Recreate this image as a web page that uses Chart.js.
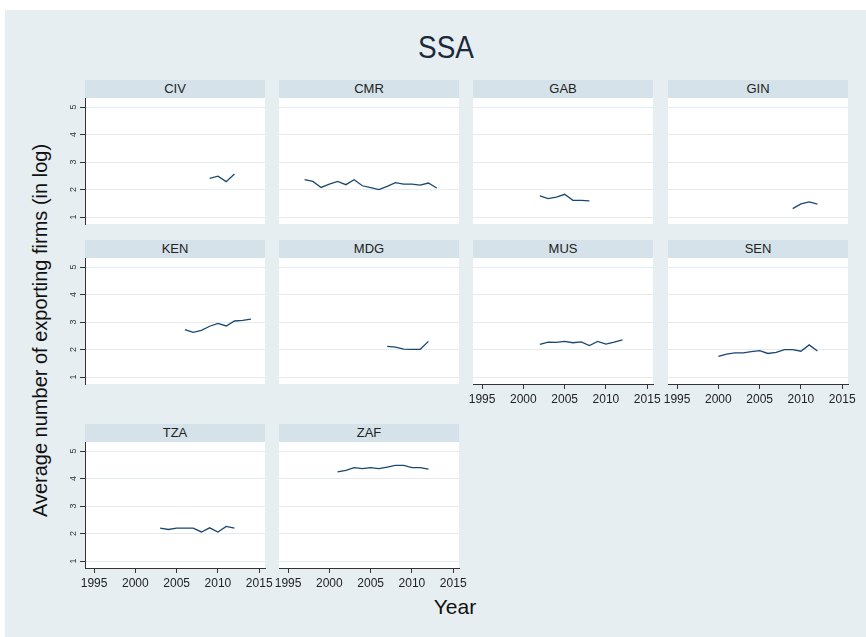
<!DOCTYPE html>
<html>
<head>
<meta charset="utf-8">
<script src="https://cdn.jsdelivr.net/npm/chart.js@4.4.1/dist/chart.umd.min.js"></script>
<style>
  body { margin: 0; width: 866px; height: 637px; background: #fff; position: relative; overflow: hidden;
         font-family: "Liberation Sans", Arial, sans-serif; }
  #bg { position: absolute; left: 5px; top: 10px; width: 861px; height: 627px; background: #e6eef1; }
  .strip { position: absolute; height: 18px; line-height: 18px; background: #d6e2e9; color: #222;
           font-size: 13px; text-align: center; }
  canvas { position: absolute; }
  #title { position: absolute; left: 346px; width: 200px; top: 30px; text-align: center; font-size: 31px;
           color: #1a2a3a; transform: scaleX(0.9); }
  #ytitle { position: absolute; left: -190px; top: 319px; width: 460px; text-align: center; font-size: 20px;
            color: #111; transform: rotate(-90deg); }
  #xtitle { position: absolute; left: 405px; width: 100px; top: 595px; text-align: center; font-size: 21px; color: #111; }
</style>
</head>
<body>
<div id="bg"></div>
<div id="title">SSA</div>
<div id="ytitle">Average number of exporting firms (in log)</div>
<div id="xtitle">Year</div>

<script>
// data
const civYears = [2009, 2010, 2011, 2012];
const civValues = [2.41, 2.49, 2.29, 2.57];

const cmrYears = [1997, 1998, 1999, 2000, 2001, 2002, 2003, 2004, 2005, 2006, 2007, 2008, 2009, 2010, 2011, 2012, 2013];
const cmrValues = [2.36, 2.3, 2.08, 2.2, 2.3, 2.18, 2.36, 2.14, 2.07, 2.0, 2.12, 2.25, 2.2, 2.2, 2.16, 2.24, 2.06];

const gabYears = [2002, 2003, 2004, 2005, 2006, 2007, 2008];
const gabValues = [1.77, 1.67, 1.73, 1.83, 1.61, 1.61, 1.59];

const ginYears = [2009, 2010, 2011, 2012];
const ginValues = [1.31, 1.48, 1.55, 1.47];

const kenYears = [2006, 2007, 2008, 2009, 2010, 2011, 2012, 2013, 2014];
const kenValues = [2.73, 2.63, 2.7, 2.85, 2.95, 2.86, 3.04, 3.06, 3.11];

const mdgYears = [2007, 2008, 2009, 2010, 2011, 2012];
const mdgValues = [2.12, 2.09, 2.02, 2.01, 2.01, 2.3];

const musYears = [2002, 2003, 2004, 2005, 2006, 2007, 2008, 2009, 2010, 2011, 2012];
const musValues = [2.19, 2.27, 2.26, 2.3, 2.25, 2.28, 2.15, 2.3, 2.2, 2.27, 2.35];

const senYears = [2000, 2001, 2002, 2003, 2004, 2005, 2006, 2007, 2008, 2009, 2010, 2011, 2012];
const senValues = [1.75, 1.84, 1.88, 1.88, 1.93, 1.96, 1.86, 1.9, 2.0, 2.0, 1.94, 2.17, 1.95];

const tzaYears = [2003, 2004, 2005, 2006, 2007, 2008, 2009, 2010, 2011, 2012];
const tzaValues = [2.2, 2.15, 2.2, 2.2, 2.2, 2.06, 2.21, 2.06, 2.26, 2.2];

const zafYears = [2001, 2002, 2003, 2004, 2005, 2006, 2007, 2008, 2009, 2010, 2011, 2012];
const zafValues = [4.24, 4.3, 4.4, 4.36, 4.4, 4.36, 4.42, 4.48, 4.48, 4.4, 4.4, 4.34];

const xTicks = [1995, 2000, 2005, 2010, 2015];
const yTicks = [1, 2, 3, 4, 5];

// panel layout
const panels = [
  { name: "CIV", years: civYears, values: civValues, col: 0, row: 0, xAxis: false },
  { name: "CMR", years: cmrYears, values: cmrValues, col: 1, row: 0, xAxis: false },
  { name: "GAB", years: gabYears, values: gabValues, col: 2, row: 0, xAxis: false },
  { name: "GIN", years: ginYears, values: ginValues, col: 3, row: 0, xAxis: false },
  { name: "KEN", years: kenYears, values: kenValues, col: 0, row: 1, xAxis: false },
  { name: "MDG", years: mdgYears, values: mdgValues, col: 1, row: 1, xAxis: false },
  { name: "MUS", years: musYears, values: musValues, col: 2, row: 1, xAxis: true },
  { name: "SEN", years: senYears, values: senValues, col: 3, row: 1, xAxis: true },
  { name: "TZA", years: tzaYears, values: tzaValues, col: 0, row: 2, xAxis: true },
  { name: "ZAF", years: zafYears, values: zafValues, col: 1, row: 2, xAxis: true },
];

const colLeft = [85, 279, 473, 668];
const rowTop = [98, 258, 442];
const plotW = 180;
const plotH = 126;
const PAD = 20;
const X_AXIS_H = 26;
const lineColor = "#1a476f";

// white plot region behind the lines
const plotBg = {
  id: "plotBg",
  beforeDraw(chart) {
    const { ctx, chartArea: a } = chart;
    ctx.save();
    ctx.fillStyle = "#ffffff";
    ctx.fillRect(a.left, a.top, a.right - a.left, a.bottom - a.top);
    ctx.restore();
  },
};

// rotated y tick labels like Stata
const yLabels = {
  id: "yLabels",
  afterDraw(chart, args, opts) {
    if (!opts.show) return;
    const s = chart.scales.y;
    const ctx = chart.ctx;
    ctx.save();
    ctx.fillStyle = "#333";
    ctx.font = "9px 'Liberation Sans', Arial, sans-serif";
    ctx.textAlign = "center";
    ctx.textBaseline = "middle";
    s.ticks.forEach((t) => {
      const y = s.getPixelForValue(t.value);
      ctx.translate(s.right - 11, y);
      ctx.rotate(-Math.PI / 2);
      ctx.fillText(String(t.value), 0, 0);
      ctx.setTransform(1, 0, 0, 1, 0, 0);
    });
    ctx.restore();
  },
};

panels.forEach((p) => {
  const left = colLeft[p.col];
  const top = rowTop[p.row];
  const axisH = p.xAxis ? X_AXIS_H : 0;

  const strip = document.createElement("div");
  strip.className = "strip";
  strip.style.left = left + "px";
  strip.style.top = top - 18 + "px";
  strip.style.width = plotW + "px";
  strip.textContent = p.name;

  const canvas = document.createElement("canvas");
  canvas.width = plotW + PAD * 2;
  canvas.height = plotH + axisH + PAD * 2;
  canvas.style.left = left - PAD + "px";
  canvas.style.top = top - PAD + "px";
  document.body.appendChild(canvas);
  document.body.appendChild(strip);

  new Chart(canvas.getContext("2d"), {
    type: "line",
    data: {
      datasets: [
        {
          data: p.years.map((yr, i) => ({ x: yr, y: p.values[i] })),
          borderColor: lineColor,
          borderWidth: 1.3,
          pointRadius: 0,
          tension: 0,
          fill: false,
        },
      ],
    },
    options: {
      responsive: false,
      animation: false,
      layout: { padding: PAD },
      plugins: {
        legend: { display: false },
        tooltip: { enabled: false },
        yLabels: { show: p.col === 0 },
      },
      scales: {
        x: {
          type: "linear",
          min: 1993.9,
          max: 2015.7,
          display: p.xAxis,
          afterBuildTicks: (s) => { s.ticks = xTicks.map((v) => ({ value: v })); },
          afterFit: (s) => { s.height = axisH; },
          border: { display: true, color: "#333", width: 1 },
          grid: { drawOnChartArea: false, drawTicks: true, tickLength: 5, tickColor: "#333" },
          ticks: {
            color: "#222",
            padding: 3,
            maxRotation: 0,
            font: { size: 12, family: "'Liberation Sans', Arial, sans-serif" },
            callback: (v) => String(v),
          },
        },
        y: {
          type: "linear",
          min: 0.75,
          max: 5.33,
          afterBuildTicks: (s) => { s.ticks = yTicks.map((v) => ({ value: v })); },
          afterFit: (s) => { s.width = 0; },
          border: { display: p.col === 0, color: "#333", width: 1 },
          grid: {
            color: "#e4ecf0",
            lineWidth: 1,
            drawTicks: p.col === 0,
            tickLength: 5,
            tickColor: "#333",
          },
          ticks: { display: false },
        },
      },
    },
    plugins: [plotBg, yLabels],
  });
});
</script>
</body>
</html>
